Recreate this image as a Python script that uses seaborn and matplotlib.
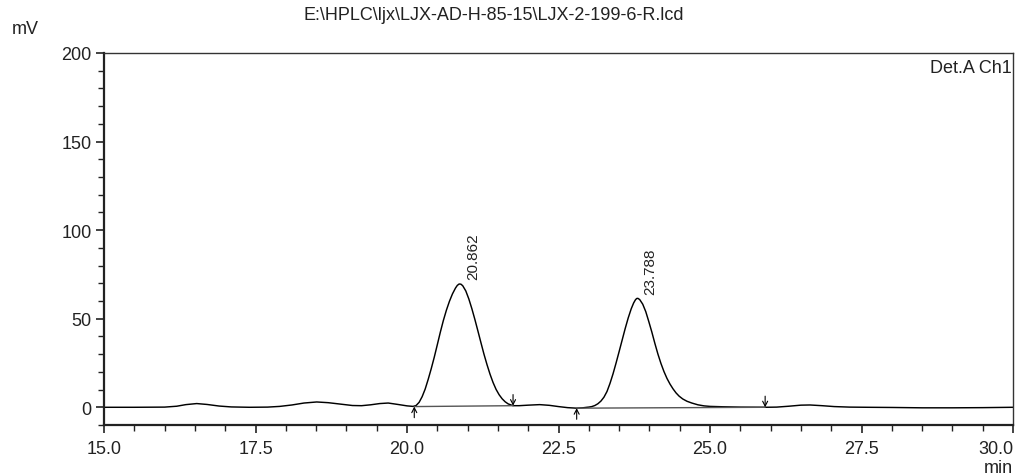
import matplotlib
matplotlib.use("Agg")
import matplotlib.pyplot as plt
import seaborn as sns
import pandas as pd
from matplotlib.ticker import MultipleLocator, FixedLocator

# ---------------- data ----------------
time = [15.0, 15.5, 16.0, 16.2, 16.35, 16.53, 16.7, 16.9, 17.1, 17.4, 17.7, 17.9,
        18.1, 18.3, 18.51, 18.7, 18.9, 19.1, 19.25, 19.4, 19.55, 19.69, 19.85,
        20.0, 20.10, 20.15, 20.20, 20.25, 20.30, 20.35, 20.40, 20.45, 20.50,
        20.55, 20.60, 20.65, 20.70, 20.75, 20.80, 20.83, 20.86, 20.89, 20.92,
        20.97, 21.02, 21.07, 21.12, 21.17, 21.22, 21.27, 21.32, 21.37, 21.42,
        21.47, 21.52, 21.57, 21.62, 21.67, 21.75, 21.85, 22.0, 22.19, 22.35,
        22.5, 22.65, 22.8, 22.9, 22.97, 23.0, 23.05, 23.10, 23.15, 23.20,
        23.25, 23.30, 23.35, 23.40, 23.45, 23.50, 23.55, 23.60, 23.65, 23.70,
        23.74, 23.77, 23.79, 23.81, 23.84, 23.89, 23.94, 23.99, 24.04, 24.09,
        24.14, 24.19, 24.24, 24.29, 24.34, 24.39, 24.44, 24.49, 24.55, 24.62,
        24.70, 24.80, 24.90, 25.0, 25.2, 25.5, 25.91, 26.1, 26.3, 26.5, 26.65,
        26.85, 27.05, 27.3, 27.6, 28.0, 28.5, 29.0, 29.5, 30.0]
signal = [0.0, 0.0, 0.1, 0.6, 1.5, 2.1, 1.6, 0.7, 0.2, 0.0, 0.1, 0.5,
          1.3, 2.4, 3.0, 2.6, 1.8, 1.0, 0.9, 1.4, 2.1, 2.4, 1.6,
          0.8, 0.5, 1.0, 2.8, 6.0, 10.3, 15.8, 21.8, 28.3, 35.3,
          42.4, 49.0, 54.8, 59.8, 64.0, 67.3, 68.8, 69.6, 69.5, 68.6,
          65.7, 61.2, 55.7, 49.6, 43.1, 36.5, 30.0, 24.1, 18.7, 14.0,
          10.1, 7.1, 4.8, 3.1, 1.9, 0.9, 0.9, 1.2, 1.5, 1.1,
          0.4, -0.2, -0.5, -0.3, 0.0, 0.1, 0.4, 1.0, 2.0, 3.5,
          5.7, 8.9, 13.5, 18.9, 25.0, 31.4, 37.9, 44.4, 50.4, 55.6,
          58.9, 60.7, 61.4, 61.5, 60.8, 58.2, 54.0, 48.4, 42.5, 36.1,
          30.1, 24.8, 20.2, 16.3, 13.1, 10.4, 8.1, 6.3, 4.7, 3.4,
          2.4, 1.4, 0.8, 0.5, 0.3, 0.1, 0.0, 0.1, 0.6, 1.2, 1.3,
          0.9, 0.4, 0.1, 0.0, -0.1, -0.3, -0.3, -0.2, 0.0]

peak_rt = [20.862, 23.788]
peak_height = [69.8, 61.6]
peak_label = ["20.862", "23.788"]
start_t = [20.12, 22.80]
start_y = [0.4, -0.5]
end_t = [21.75, 25.91]
end_y = [0.9, 0.0]

x_major = [15.0, 17.5, 20.0, 22.5, 25.0, 27.5, 30.0]
x_labels = ["15.0", "17.5", "20.0", "22.5", "25.0", "27.5", "30.0"]
y_major = [0, 50, 100, 150, 200]
y_labels = ["0", "50", "100", "150", "200"]

title = r"E:\HPLC\ljx\LJX-AD-H-85-15\LJX-2-199-6-R.lcd"

# ---------------- plot ----------------
sns.set_style("ticks")
plt.rcParams["font.family"] = ["Liberation Sans", "DejaVu Sans"]
plt.rcParams["text.color"] = "#222222"

fig = plt.figure(figsize=(10.18, 4.77), dpi=100)
ax = fig.add_axes([104 / 1018, 1 - 426 / 477, (1013 - 104) / 1018, (426 - 54) / 477])

df = pd.DataFrame({"time": time, "signal": signal})
sns.lineplot(data=df, x="time", y="signal", sort=False, estimator=None,
             color="black", lw=1.05, ax=ax)

for st, sy, et, ey in zip(start_t, start_y, end_t, end_y):
    ax.plot([st, et], [sy, ey], color="#555555", lw=1.0)

arrow = dict(arrowstyle="->,head_length=0.35,head_width=0.18", lw=0.8,
             color="black", shrinkA=0, shrinkB=0)
for st, sy in zip(start_t, start_y):
    ax.annotate("", xy=(st, sy), xytext=(0, -8), textcoords="offset points",
                arrowprops=arrow)
for et, ey in zip(end_t, end_y):
    ax.annotate("", xy=(et, ey), xytext=(0, 8), textcoords="offset points",
                arrowprops=arrow)

for rt, h, lab in zip(peak_rt, peak_height, peak_label):
    ax.annotate(lab, xy=(rt, h), xytext=(10, 3), textcoords="offset points",
                rotation=90, ha="center", va="bottom", fontsize=11,
                color="#222222")

ax.set_xlim(15.0, 30.0)
ax.set_ylim(-10, 200)
ax.xaxis.set_major_locator(FixedLocator(x_major))
ax.set_xticklabels(x_labels)
ax.xaxis.set_minor_locator(MultipleLocator(0.5))
ax.yaxis.set_major_locator(FixedLocator(y_major))
ax.set_yticklabels(y_labels)
ax.yaxis.set_minor_locator(MultipleLocator(10))
ax.set_xlabel("")
ax.set_ylabel("")

ax.tick_params(axis="both", which="major", length=6, width=1.2, labelsize=13,
               colors="#222222", direction="out")
ax.tick_params(axis="both", which="minor", length=4, width=1.0,
               color="#222222", direction="out")
ax.tick_params(axis="x", pad=5)
ax.tick_params(axis="y", pad=3)
lbls = ax.get_xticklabels()
lbls[-1].set_horizontalalignment("right")

for side in ["left", "bottom"]:
    ax.spines[side].set_linewidth(1.6)
    ax.spines[side].set_color("#222222")
for side in ["top", "right"]:
    ax.spines[side].set_visible(True)
    ax.spines[side].set_linewidth(1.0)
    ax.spines[side].set_color("#333333")

fig.text(494 / 1018, 1 - 16 / 477, title, ha="center", va="center", fontsize=13)
fig.text(12 / 1018, 1 - 29 / 477, "mV", ha="left", va="center", fontsize=13)
ax.text(0.999, 0.985, "Det.A Ch1", transform=ax.transAxes, ha="right", va="top",
        fontsize=13)
fig.text(1013 / 1018, 1 - 469 / 477, "min", ha="right", va="center", fontsize=13)

fig.savefig("out.png", dpi=100)
